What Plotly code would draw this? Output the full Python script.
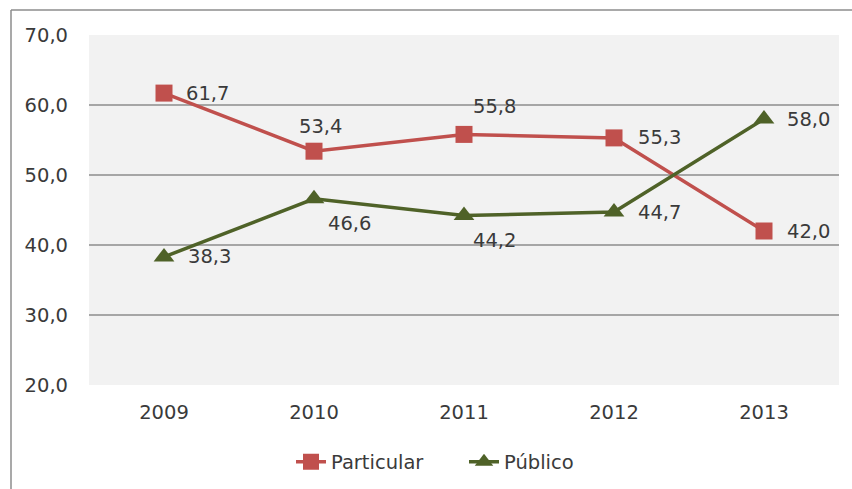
import plotly.graph_objects as go

years = [2009, 2010, 2011, 2012, 2013]
particular = [61.7, 53.4, 55.8, 55.3, 42.0]
publico = [38.3, 46.6, 44.2, 44.7, 58.0]

# label offsets (px) relative to each point
part_shift = [(20, 0, "left"), (6, 25, "center"), (30, 28, "center"), (22, 0, "left"), (21, 0, "left")]
pub_shift = [(22, 0, "left"), (35, -25, "center"), (30, -25, "center"), (22, 0, "left"), (21, 0, "left")]

RED = "#C0504D"
GREEN = "#4F6228"
FONT = "DejaVu Sans"
FS = 19.5
TXT = "#3a3a3a"

fig = go.Figure()
fig.add_trace(go.Scatter(
    x=years, y=particular, name="Particular", mode="lines+markers",
    line=dict(color=RED, width=3.5),
    marker=dict(symbol="square", size=17, color=RED),
))
fig.add_trace(go.Scatter(
    x=years, y=publico, name="Público", mode="lines+markers",
    line=dict(color=GREEN, width=3.5),
    marker=dict(symbol="triangle-up", size=18, color=GREEN),
))

def fmt(v):
    return f"{v:.1f}".replace(".", ",")

annotations = []
for vals, shifts in ((particular, part_shift), (publico, pub_shift)):
    for x, v, (dx, dy, anc) in zip(years, vals, shifts):
        annotations.append(dict(
            x=x, y=v, xref="x", yref="y", text=fmt(v), showarrow=False,
            xanchor=anc, yanchor="middle", xshift=dx, yshift=dy,
            font=dict(family=FONT, size=FS, color=TXT),
        ))

# chart frame: left and top edges
shapes = [
    dict(type="line", xref="paper", yref="paper", x0=-0.104, x1=-0.104, y0=-0.31, y1=1.0714,
         line=dict(color="#8c8c8c", width=1.5)),
    dict(type="line", xref="paper", yref="paper", x0=-0.104, x1=1.03, y0=1.0714, y1=1.0714,
         line=dict(color="#8c8c8c", width=1.5)),
]

fig.update_layout(
    width=852, height=489,
    margin=dict(l=89, r=13, t=35, b=104, autoexpand=False),
    paper_bgcolor="white",
    plot_bgcolor="#F2F2F2",
    separators=",.",
    font=dict(family=FONT, size=FS, color=TXT),
    annotations=annotations,
    shapes=shapes,
    showlegend=True,
    legend=dict(orientation="h", x=0.50, xanchor="center", y=-0.22, yanchor="middle",
                font=dict(family=FONT, size=FS, color=TXT), entrywidth=128,
                bgcolor="rgba(0,0,0,0)"),
    xaxis=dict(
        range=[2008.5, 2013.5], tickvals=years, ticktext=[str(y) for y in years],
        showgrid=False, showline=False, zeroline=False,
        ticks="", ticklabelstandoff=13,
        tickfont=dict(family=FONT, size=FS, color=TXT),
    ),
    yaxis=dict(
        range=[20, 70], dtick=10, tick0=20, tickformat=".1f",
        showgrid=True, gridcolor="#A6A6A6", gridwidth=1.5,
        zeroline=False, showline=False, ticks="", ticklabelstandoff=20,
        tickfont=dict(family=FONT, size=FS, color=TXT),
    ),
)

fig.write_html("out.html")
